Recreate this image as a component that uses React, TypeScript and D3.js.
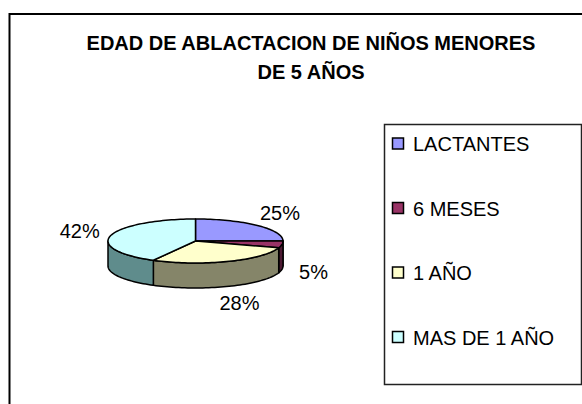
import React from "react";
import * as d3 from "d3";

const categories = ["LACTANTES", "6 MESES", "1 AÑO", "MAS DE 1 AÑO"];
const values = [25, 5, 28, 42];
const topColors = ["#9999FF", "#993366", "#FFFFCC", "#CCFFFF"];
const sideColors = ["#4D4D80", "#4D1A33", "#858569", "#5F8C8C"];
const titleLines = ["EDAD DE ABLACTACION DE NIÑOS MENORES", "DE 5 AÑOS"];

const W = 582;
const H = 404;
const FONT = "'Liberation Sans', Arial, Helvetica, sans-serif";

export default function App() {
  const cx = 195.5;
  const cy = 241;
  const rx = 87.5;
  const ry = 22;
  const depth = 25;

  const pie = d3.pie<number>().sort(null).startAngle(0).endAngle(2 * Math.PI);
  const arcs = pie(values);
  const total = d3.sum(values);

  const pt = (a: number, dy = 0): [number, number] => [
    cx + rx * Math.sin(a),
    cy - ry * Math.cos(a) + dy,
  ];

  const arcPoints = (a0: number, a1: number, dy: number) => {
    const n = Math.max(2, Math.ceil(((a1 - a0) / (2 * Math.PI)) * 180));
    return d3.range(n + 1).map((i) => pt(a0 + ((a1 - a0) * i) / n, dy));
  };

  const line = d3.line();

  const topPath = (a0: number, a1: number) =>
    line([[cx, cy], ...arcPoints(a0, a1, 0)]) + "Z";

  const sidePath = (a0: number, a1: number) => {
    const s = Math.max(a0, Math.PI / 2);
    const e = Math.min(a1, (3 * Math.PI) / 2);
    if (e <= s) return null;
    const topPts = arcPoints(s, e, 0);
    const botPts = arcPoints(s, e, depth).reverse();
    return line([...topPts, ...botPts]) + "Z";
  };

  const legendX = 384.5;
  const legendY = 124.5;
  const legendW = 197;
  const legendH = 260;
  const legendScale = d3
    .scalePoint<string>()
    .domain(categories)
    .range([legendY + 19.5, legendY + 213]);

  const labelFor = (a: { startAngle: number; endAngle: number }) => {
    const m = (a.startAngle + a.endAngle) / 2;
    const front = Math.cos(m) < 0;
    const [ax, ay] = pt(m, front ? depth : 0);
    const A = 32;
    const B = 18;
    return [ax + A * Math.sin(m), ay - B * Math.cos(m)];
  };

  return (
    <svg
      width={W}
      height={H}
      style={{ position: "fixed", left: 0, top: 0, background: "#fff" }}
      fontFamily={FONT}
    >
      <rect x={0} y={0} width={W} height={H} fill="#fff" />
      <rect
        x={9.5}
        y={14}
        width={640}
        height={440}
        fill="#fff"
        stroke="#000"
        strokeWidth={2}
      />
      {titleLines.map((t, i) => (
        <text
          key={t}
          x={311}
          y={50 + i * 29}
          textAnchor="middle"
          fontWeight="bold"
          fontSize={20}
          fill="#000"
        >
          {t}
        </text>
      ))}
      <g>
        {arcs.map((a, i) => {
          const d = sidePath(a.startAngle, a.endAngle);
          return d ? (
            <path
              key={"s" + i}
              d={d}
              fill={sideColors[i]}
              stroke="#000"
              strokeWidth={1.5}
              strokeLinejoin="round"
            />
          ) : null;
        })}
        {arcs.map((a, i) => (
          <path
            key={"t" + i}
            d={topPath(a.startAngle, a.endAngle)}
            fill={topColors[i]}
            stroke="#000"
            strokeWidth={1.5}
            strokeLinejoin="round"
          />
        ))}
      </g>
      {arcs.map((a, i) => {
        const [x, y] = labelFor(a);
        return (
          <text
            key={"l" + i}
            x={x}
            y={y}
            dy="0.35em"
            textAnchor="middle"
            fontSize={20}
            fill="#000"
          >
            {Math.round((values[i] / total) * 100) + "%"}
          </text>
        );
      })}
      <rect
        x={legendX}
        y={legendY}
        width={legendW}
        height={legendH}
        fill="#fff"
        stroke="#222"
        strokeWidth={1.5}
      />
      {categories.map((c, i) => {
        const y = legendScale(c) as number;
        return (
          <g key={c}>
            <rect
              x={392.5}
              y={y - 6}
              width={11}
              height={11}
              fill={topColors[i]}
              stroke="#000"
              strokeWidth={1.5}
            />
            <text x={413} y={y} dy="0.35em" fontSize={20} fill="#000">
              {c}
            </text>
          </g>
        );
      })}
    </svg>
  );
}
